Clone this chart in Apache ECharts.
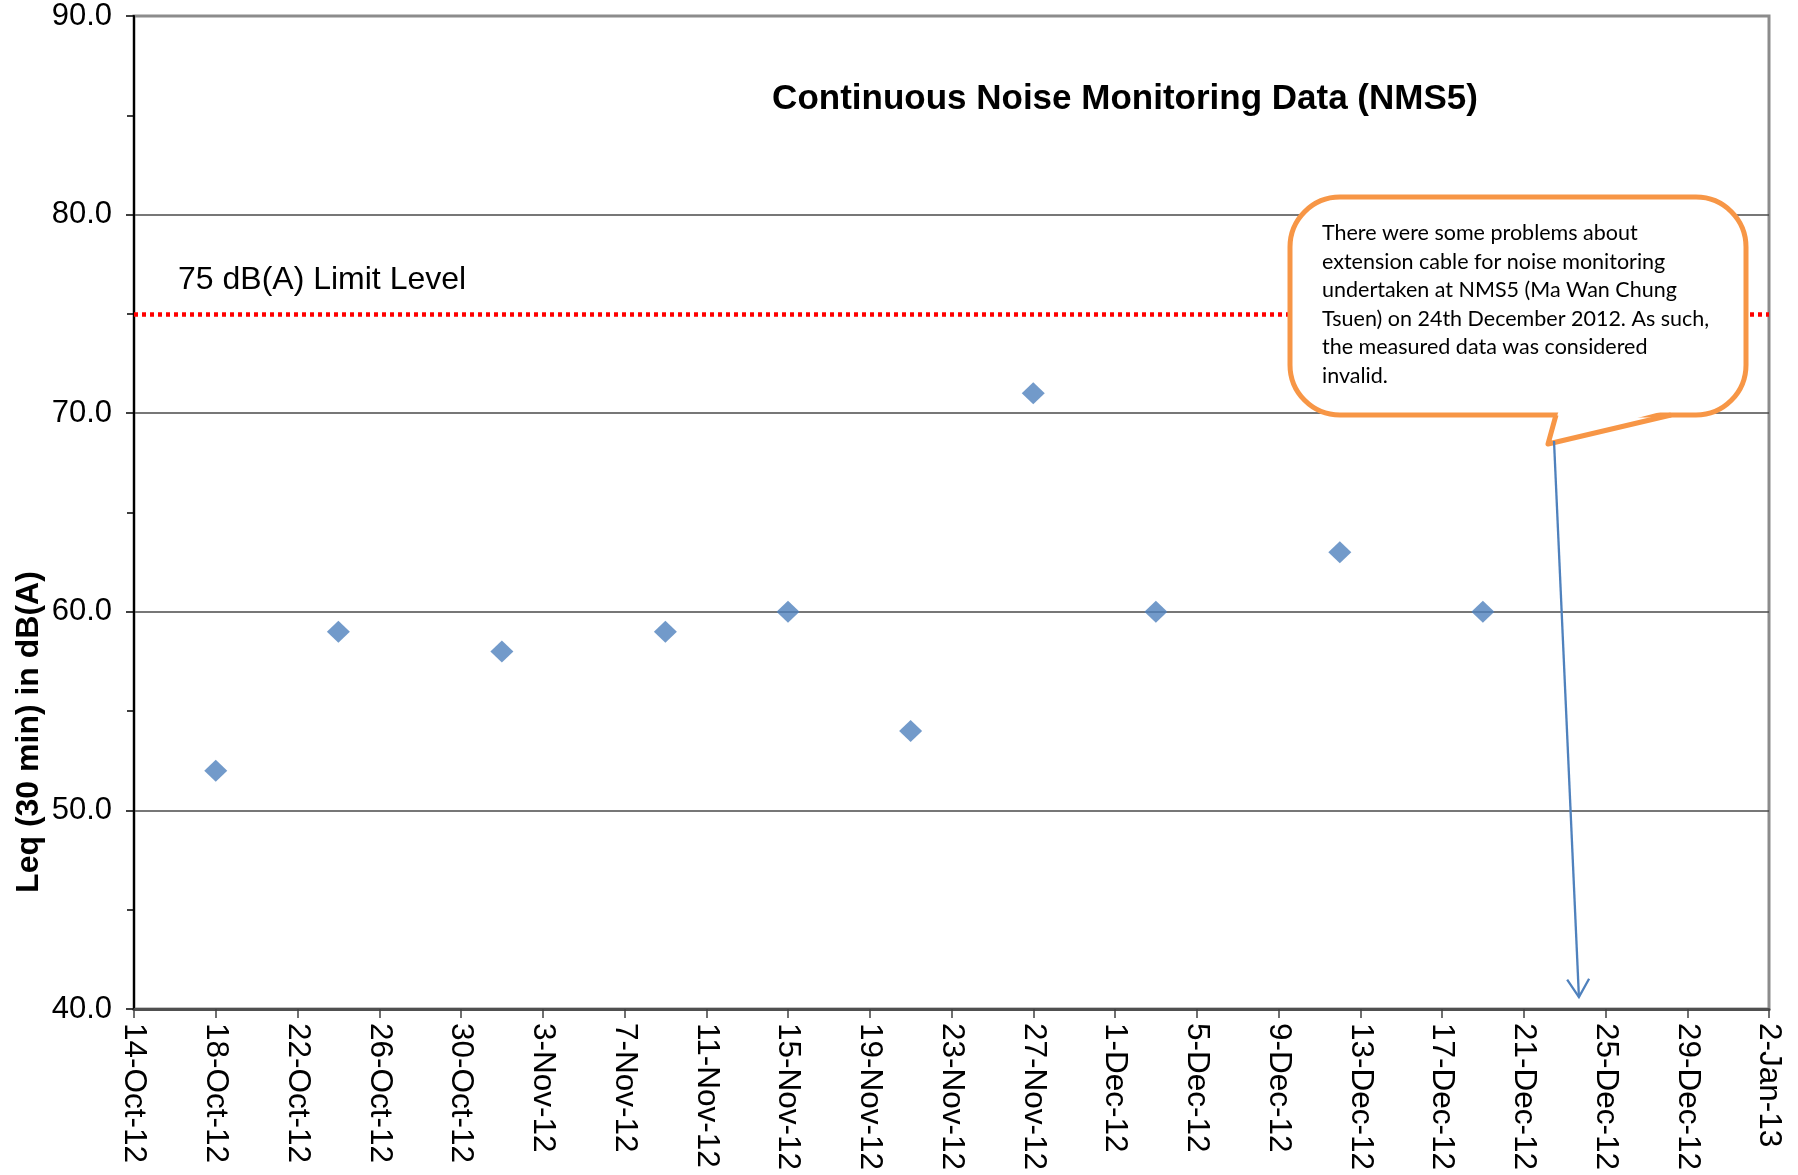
<!DOCTYPE html>
<html>
<head>
<meta charset="utf-8">
<script src="https://cdn.jsdelivr.net/npm/echarts@6/dist/echarts.min.js"></script>
<style>
  html, body { margin: 0; padding: 0; background: #ffffff; }
  #chart { width: 1798px; height: 1175px; }
</style>
</head>
<body>
<div id="chart"></div>
<script>
// Axis range (dates) and tick spacing in days
const startDate = '14-Oct-12';
const endDate = '2-Jan-13';
const tickDays = 4;

// Measured Leq (30 min) at NMS5
const sampleDates = ['18-Oct-12', '24-Oct-12', '1-Nov-12', '9-Nov-12', '15-Nov-12',
                     '21-Nov-12', '27-Nov-12', '3-Dec-12', '12-Dec-12', '19-Dec-12'];
const leqValues = [52, 59, 58, 59, 60, 54, 71, 60, 63, 60];

// Value axis and limit
const yMin = 40;
const yMax = 90;
const yStep = 10;
const limitLevel = 75;
const limitLabel = '75 dB(A) Limit Level';

// Invalid measurement flagged in the note
const invalidDate = '24-Dec-12';
const noteLines = [
  'There were some problems about',
  'extension cable for noise monitoring',
  'undertaken at NMS5 (Ma Wan Chung',
  'Tsuen) on 24th December 2012. As such,',
  'the measured data was considered',
  'invalid.'
];

const MONTHS = ['Jan','Feb','Mar','Apr','May','Jun','Jul','Aug','Sep','Oct','Nov','Dec'];
function parseDay(s) {
  const [d, m, y] = s.split('-');
  return Date.UTC(2000 + Number(y), MONTHS.indexOf(m), Number(d));
}
const DAY = 86400000;
const t0 = parseDay(startDate);
const dayIndex = s => (parseDay(s) - t0) / DAY;
function dayLabel(v) {
  const d = new Date(t0 + Math.round(v) * DAY);
  return d.getUTCDate() + '-' + MONTHS[d.getUTCMonth()] + '-' + String(d.getUTCFullYear()).slice(2);
}

const points = sampleDates.map((s, i) => [dayIndex(s), leqValues[i]]);
const FONT = "'Liberation Sans', Arial, sans-serif";

const chart = echarts.init(document.getElementById('chart'), null, { renderer: 'canvas' });

chart.setOption({
  backgroundColor: '#ffffff',
  animation: false,
  title: {
    text: 'Continuous Noise Monitoring Data (NMS5)',
    left: 1120,
    top: 77,
    textAlign: 'center',
    textStyle: { fontFamily: FONT, fontSize: 35, fontWeight: 'bold', color: '#000' }
  },
  grid: {
    left: 134, right: 29, top: 16, bottom: 166,
    show: true, borderColor: '#8c8c8c', borderWidth: 3, backgroundColor: 'transparent'
  },
  xAxis: {
    type: 'value',
    min: 0,
    max: dayIndex(endDate),
    interval: tickDays,
    axisLine: { show: true, onZero: false, lineStyle: { color: '#505050', width: 3 } },
    axisTick: { show: true, inside: false, length: 9, lineStyle: { color: '#404040', width: 1.5 } },
    axisLabel: {
      rotate: -90, margin: 14, formatter: dayLabel,
      fontFamily: FONT, fontSize: 31.5, color: '#000'
    },
    splitLine: { show: false }
  },
  yAxis: {
    type: 'value',
    min: yMin, max: yMax, interval: yStep,
    axisLine: { show: true, onZero: false, lineStyle: { color: '#000', width: 2 } },
    axisTick: { show: true, length: 8, lineStyle: { color: '#000', width: 1.5 } },
    minorTick: { show: true, splitNumber: 2, length: 7, lineStyle: { color: '#000', width: 1.5 } },
    axisLabel: {
      margin: 22, formatter: v => v.toFixed(1),
      fontFamily: FONT, fontSize: 31, color: '#000'
    },
    splitLine: { show: true, showMinLine: false, showMaxLine: false,
                 lineStyle: { color: '#4a4a4a', width: 1.7 } }
  },
  series: [{
    type: 'scatter',
    data: points,
    symbol: 'diamond',
    symbolSize: [23, 22],
    itemStyle: { color: '#4F81BD' },
    z: 5,
    markLine: {
      silent: true,
      symbol: 'none',
      label: { show: false },
      lineStyle: { color: '#ff0000', type: [4, 4], width: 4.5 },
      data: [{ yAxis: limitLevel }]
    }
  }]
});

// Annotations: limit label, axis title, callout note and pointer arrow
const limitY = chart.convertToPixel({ gridIndex: 0 }, [0, limitLevel])[1];
const tip = chart.convertToPixel({ gridIndex: 0 }, [dayIndex(invalidDate) - 0.3, yMin + 0.6]);
const tail = [1554, 441];
const ang = Math.atan2(tip[1] - tail[1], tip[0] - tail[0]);
const headLen = 21, headSpread = 0.55;
const head = s => [tip[0] - headLen * Math.cos(ang + s), tip[1] - headLen * Math.sin(ang + s)];

// Callout box: rounded rectangle plus a pointer notch on its lower edge
const box = { x: 1290, y: 197, width: 456, height: 218, r: 50 };
const notch = [[1556, 415], [1548, 444], [1671, 415]];

chart.setOption({
  graphic: [
    {
      type: 'text', x: 178, y: limitY - 34, z: 50,
      style: { text: limitLabel, font: `32px ${FONT}`, fill: '#000',
               verticalAlign: 'middle', align: 'left' }
    },
    {
      type: 'text', x: 29, y: 732, rotation: Math.PI / 2, z: 50,
      style: { text: 'Leq (30 min) in dB(A)', font: `bold 32px ${FONT}`, fill: '#000',
               align: 'center', verticalAlign: 'middle' }
    },
    {
      type: 'rect', z: 60,
      shape: { x: box.x, y: box.y, width: box.width, height: box.height, r: box.r },
      style: { fill: '#ffffff', stroke: '#F79646', lineWidth: 5 }
    },
    {
      type: 'polygon', z: 61,
      shape: { points: [[1559, 410], [1549, 441], [1668, 410]] },
      style: { fill: '#ffffff', stroke: null }
    },
    {
      type: 'polyline', z: 61,
      shape: { points: notch },
      style: { stroke: '#F79646', lineWidth: 5, fill: null, lineJoin: 'round' }
    },
    {
      type: 'text', x: 1322, y: 219, z: 62,
      style: { text: noteLines.join('\n'), font: "21.5px Lato, 'Open Sans', sans-serif",
               lineHeight: 28.5, fill: '#000', align: 'left', verticalAlign: 'top' }
    },
    {
      type: 'polyline', z: 63,
      shape: { points: [tail, tip] },
      style: { stroke: '#4F81BD', lineWidth: 2.3, fill: null }
    },
    {
      type: 'polyline', z: 63,
      shape: { points: [head(-headSpread), tip, head(headSpread)] },
      style: { stroke: '#4F81BD', lineWidth: 2.3, fill: null, lineJoin: 'miter' }
    }
  ]
});
</script>
</body>
</html>
